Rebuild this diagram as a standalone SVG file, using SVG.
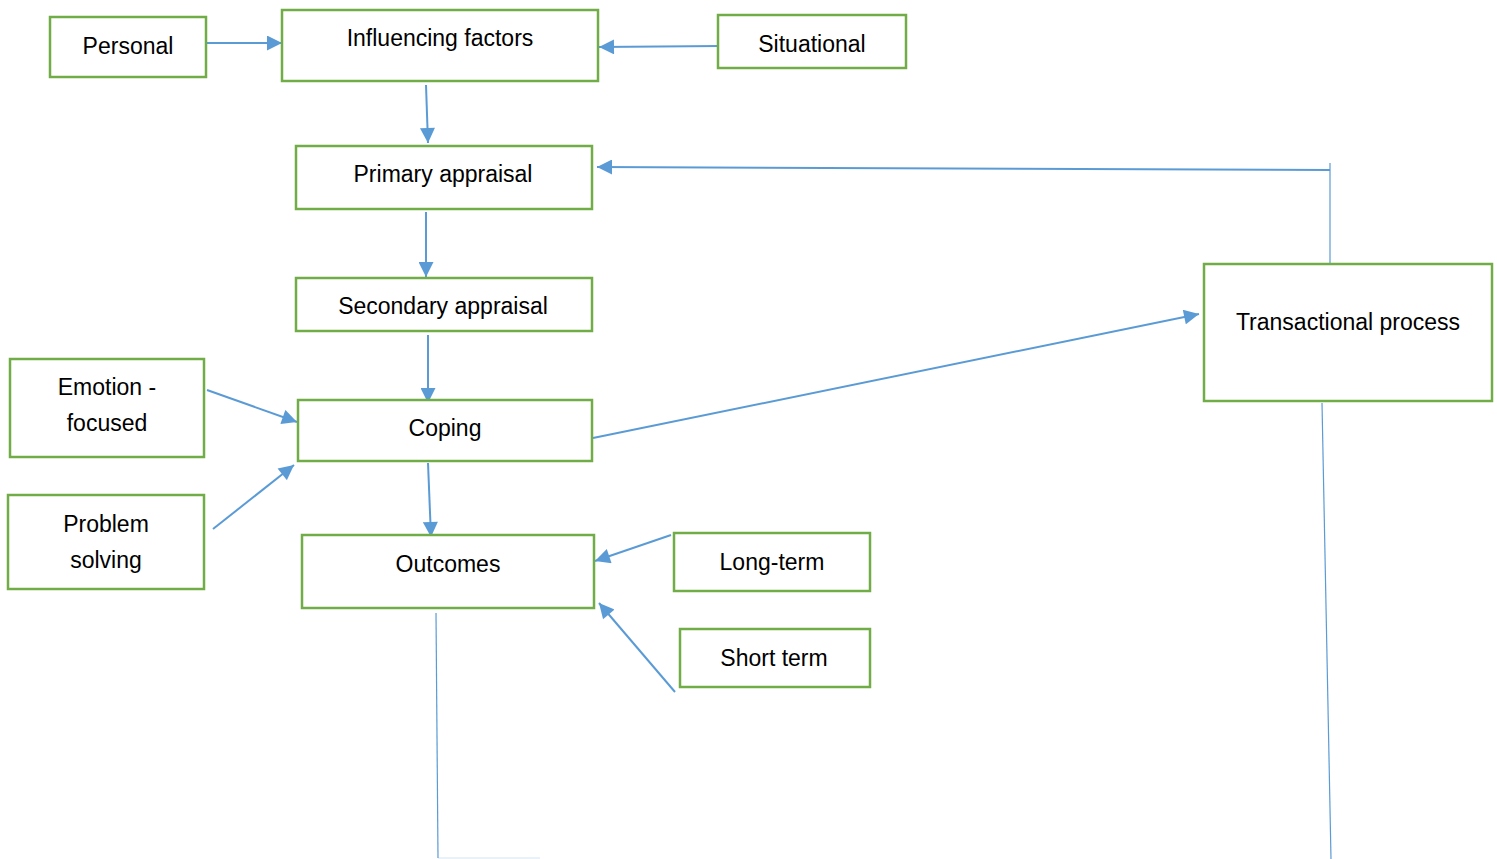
<svg xmlns="http://www.w3.org/2000/svg" width="1497" height="859" viewBox="0 0 1497 859">
<style>
.box{fill:#fff;stroke:#70AD47;stroke-width:2.5}
.t{font-family:"Liberation Sans",Arial,sans-serif;font-size:23px;fill:#000;text-anchor:middle;dominant-baseline:central}
.c{fill:none;stroke:#5B9BD5;stroke-width:2}
.thin{fill:none;stroke:#5B9BD5;stroke-width:1.2}
</style>
<defs>
<marker id="a" viewBox="0 0 10 10" refX="10" refY="5" markerWidth="16" markerHeight="15" markerUnits="userSpaceOnUse" orient="auto"><path d="M0,0L10,5L0,10z" fill="#5B9BD5"/></marker>
</defs>
<g id="connectors">
<path class="c" d="M202,43H282" marker-end="url(#a)"/>
<path class="c" d="M720,46L599,47" marker-end="url(#a)"/>
<path class="c" d="M426,85L428,143" marker-end="url(#a)"/>
<path class="c" d="M426,212V277" marker-end="url(#a)"/>
<path class="c" d="M428,335V403" marker-end="url(#a)"/>
<path class="c" d="M207,390L297,422" marker-end="url(#a)"/>
<path class="c" d="M213,529L294,465" marker-end="url(#a)"/>
<path class="c" d="M428,463L431,537" marker-end="url(#a)"/>
<path class="c" d="M671,535L595,561" marker-end="url(#a)"/>
<path class="c" d="M675,692L599,603" marker-end="url(#a)"/>
<path class="c" d="M593,438L1199,314" marker-end="url(#a)"/>
<path class="thin" d="M1330,263V163"/>
<path class="c" d="M1330,170L597,167" marker-end="url(#a)"/>
<path class="thin" d="M1322,403L1331,859"/>
<path class="thin" d="M436,613L438,858"/>
<path d="M438,858H540" stroke="#5B9BD5" stroke-opacity="0.25" stroke-width="1"/>
</g>
<g id="personal"><rect class="box" x="50" y="17" width="156" height="60"/><text class="t" x="128" y="46">Personal</text></g>
<g id="influencing"><rect class="box" x="282" y="10" width="316" height="71"/><text class="t" x="440" y="38">Influencing factors</text></g>
<g id="situational"><rect class="box" x="718" y="15" width="188" height="53"/><text class="t" x="812" y="44">Situational</text></g>
<g id="primary"><rect class="box" x="296" y="146" width="296" height="63"/><text class="t" x="443" y="174">Primary appraisal</text></g>
<g id="secondary"><rect class="box" x="296" y="278" width="296" height="53"/><text class="t" x="443" y="306">Secondary appraisal</text></g>
<g id="emotion"><rect class="box" x="10" y="359" width="194" height="98"/><text class="t" x="107" y="387">Emotion -</text><text class="t" x="107" y="423">focused</text></g>
<g id="coping"><rect class="box" x="298" y="400" width="294" height="61"/><text class="t" x="445" y="428">Coping</text></g>
<g id="problem"><rect class="box" x="8" y="495" width="196" height="94"/><text class="t" x="106" y="524">Problem</text><text class="t" x="106" y="560">solving</text></g>
<g id="outcomes"><rect class="box" x="302" y="535" width="292" height="73"/><text class="t" x="448" y="564">Outcomes</text></g>
<g id="longterm"><rect class="box" x="674" y="533" width="196" height="58"/><text class="t" x="772" y="562">Long-term</text></g>
<g id="shortterm"><rect class="box" x="680" y="629" width="190" height="58"/><text class="t" x="774" y="658">Short term</text></g>
<g id="transactional"><rect class="box" x="1204" y="264" width="288" height="137"/><text class="t" x="1348" y="322">Transactional process</text></g>
</svg>
